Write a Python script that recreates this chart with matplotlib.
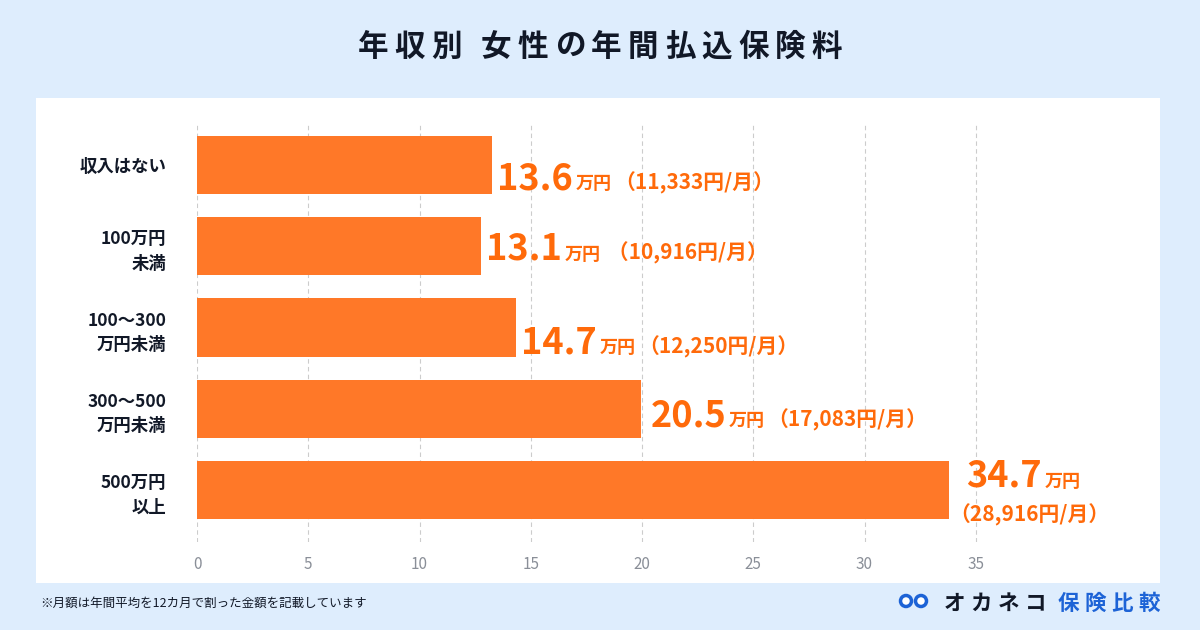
import numpy as np
import matplotlib
matplotlib.use('Agg')
from matplotlib import pyplot as plt
from matplotlib.patches import Rectangle, Circle
from matplotlib.offsetbox import TextArea, HPacker, AnnotationBbox

plt.rcParams['font.family'] = ['Noto Sans CJK JP', 'DejaVu Sans']

# data
categories = ['収入はない', '100万円\n未満', '100〜300\n万円未満', '300〜500\n万円未満', '500万円\n以上']
bar_lengths = [13.27, 12.78, 14.35, 19.97, 33.8]   # as drawn in the picture
annual = [13.6, 13.1, 14.7, 20.5, 34.7]             # 万円 / year
monthly = ['11,333', '10,916', '12,250', '17,083', '28,916']  # 円 / month
ticks = [0, 5, 10, 15, 20, 25, 30, 35]

BG = '#deedfd'
BAR = '#ff7828'
LABEL = '#ff6a0a'
DARK = '#111827'
BLUE = '#1d63d6'

W, H = 1200, 630
fig = plt.figure(figsize=(W / 100, H / 100), dpi=100)
fig.patch.set_facecolor(BG)


def spaced(text, sep, **props):
    # a row of single characters, to get letter spacing
    return HPacker(children=[TextArea(c, textprops=props) for c in text],
                   align='baseline', pad=0, sep=sep)


# white panel (behind the axes)
fig.patches.append(Rectangle((36 / W, 1 - 583 / H), (1160 - 36) / W, (583 - 98) / H,
                             transform=fig.transFigure, facecolor='white', edgecolor='none', zorder=-5))

title = spaced('年収別 女性の年間払込保険料', 4.5, fontsize=22, fontweight='bold', color=DARK)
fig.add_artist(AnnotationBbox(title, (0.5, 1 - 47 / H), xycoords='figure fraction',
                              box_alignment=(0.5, 0.5), frameon=False, pad=0))

ax = fig.add_axes([197 / W, 1 - 542 / H, 890 / W, (542 - 124) / H])
ax.set_facecolor('none')
y = np.arange(len(categories))
ax.barh(y, bar_lengths, height=0.715, color=BAR, zorder=2)
ax.set_xlim(0, 40)
ax.set_ylim(4.64, -0.505)
ax.set_xticks(ticks)
ax.set_xticklabels([str(t) for t in ticks], color='#8a8f98', fontsize=11)
ax.set_yticks(y)
ax.set_yticklabels(categories, fontsize=12.5, fontweight='bold', color=DARK, linespacing=1.45)
ax.tick_params(axis='x', length=0, pad=10)
ax.tick_params(axis='y', length=0, pad=22)
ax.grid(axis='x', color='#cccccc', linestyle=(0, (4, 3)), linewidth=0.8, zorder=1)
for s in ax.spines.values():
    s.set_visible(False)

# value labels
label_dy = [-10, -2, -11, -5, -4]  # points, vertical nudge of each label
bold = dict(color=LABEL, fontweight='bold')
last = len(categories) - 1
for i in range(len(categories)):
    num = TextArea(f'{annual[i]:.1f}', textprops=dict(fontsize=26, **bold))
    unit = TextArea('万円', textprops=dict(fontsize=13, **bold))
    gap = ' ' if i == 1 else ''
    month = TextArea(f'{gap}（{monthly[i]}円/月）', textprops=dict(fontsize=15, **bold))
    if i == last:
        # two lines: amount on top, monthly figure below
        top = HPacker(children=[num, unit], align='baseline', pad=0, sep=2)
        ax.add_artist(AnnotationBbox(top, (annual[i], y[i]), xybox=(-2, 10),
                                     boxcoords='offset points', box_alignment=(0, 0.5),
                                     frameon=False, pad=0))
        ax.add_artist(AnnotationBbox(month, (annual[i], y[i]), xybox=(-14, -18),
                                     boxcoords='offset points', box_alignment=(0, 0.5),
                                     frameon=False, pad=0))
        continue
    box = HPacker(children=[num, unit, month], align='baseline', pad=0, sep=2)
    ax.add_artist(AnnotationBbox(box, (annual[i], y[i]), xybox=(-2, label_dy[i]),
                                 boxcoords='offset points', box_alignment=(0, 0.5),
                                 frameon=False, pad=0))

# footer
fig.text(40 / W, 1 - 603 / H, '※月額は年間平均を12カ月で割った金額を記載しています',
         ha='left', va='center', fontsize=9, color=DARK)
for cx in (906, 921):
    fig.patches.append(Circle((cx / 100, (H - 601) / 100), 0.055, transform=fig.dpi_scale_trans,
                              facecolor='white', edgecolor=BLUE, linewidth=2.5, zorder=3))
logo1 = spaced('オカネコ', 4, fontsize=15.5, fontweight='bold', color=DARK)
logo2 = spaced('保険比較', 4, fontsize=15.5, fontweight='bold', color=BLUE)
logo = HPacker(children=[logo1, logo2], align='baseline', pad=0, sep=8)
fig.add_artist(AnnotationBbox(logo, (1160 / W, 1 - 603 / H), xycoords='figure fraction',
                              box_alignment=(1, 0.5), frameon=False, pad=0))

fig.savefig('out.png', dpi=100, facecolor=fig.get_facecolor())
